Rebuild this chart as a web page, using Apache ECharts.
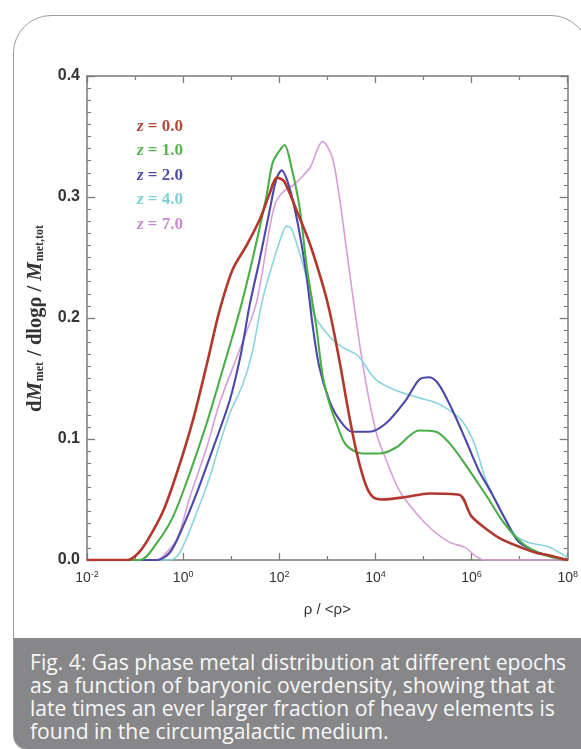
<!DOCTYPE html>
<html>
<head>
<meta charset="utf-8">
<script src="https://cdn.jsdelivr.net/npm/echarts@6/dist/echarts.min.js"></script>
<style>
  html, body { margin: 0; padding: 0; width: 581px; height: 749px; overflow: hidden; background: #fff; }
  .card {
    position: absolute; left: 13px; top: 15px; width: 576px; height: 735px;
    border: 1.5px solid #9c9c9c; border-radius: 38px 38px 0 14px;
    overflow: hidden; background: #fff; box-sizing: border-box;
  }
  .caption {
    position: absolute; left: 0; right: 0; top: 622px; bottom: 0;
    background: #87878a; color: #f7f7f7;
    font-family: "Open Sans", Roboto, sans-serif; font-size: 21.1px; line-height: 23px;
    padding: 12px 0 0 16px; white-space: nowrap;
  }
  #chart { position: absolute; left: 0; top: 0; width: 581px; height: 749px; }
</style>
</head>
<body>
<div class="card">
  <div class="caption">Fig. 4: Gas phase metal distribution at different epochs<br>as a function of baryonic overdensity, showing that at<br>late times an ever larger fraction of heavy elements is<br>found in the circumgalactic medium.</div>
</div>
<div id="chart"></div>
<script>
// x values are log10(rho / <rho>), y values are dM_met / dlog rho / M_met,tot
var seriesNames = ['z = 0.0', 'z = 1.0', 'z = 2.0', 'z = 4.0', 'z = 7.0'];
var seriesColors = ['#b2372c', '#4aae48', '#4c47a8', '#88d6dc', '#d79dd9'];
var legendColors = ['#b4483a', '#58b34f', '#4e4aa6', '#7fd0d6', '#c58ccb'];

var z0LogRho = [-2, -1.15, -0.95, -0.76, -0.42, -0.13, 0.2, 0.5, 0.75, 1.03, 1.32, 1.6, 1.8, 1.95, 2.1, 2.36, 2.63, 2.9, 3.05, 3.25, 3.46, 3.62, 3.8, 3.95, 4.14, 4.63, 5.12, 5.74, 6.0, 6.36, 6.63, 7.05, 7.34, 7.6, 8];
var z0Frac = [0, 0, 0.005, 0.015, 0.040, 0.072, 0.115, 0.163, 0.205, 0.240, 0.260, 0.282, 0.303, 0.316, 0.313, 0.289, 0.262, 0.228, 0.205, 0.165, 0.118, 0.087, 0.062, 0.052, 0.050, 0.052, 0.055, 0.054, 0.036, 0.024, 0.017, 0.010, 0.006, 0.004, 0];

var z1LogRho = [-2, -0.9, -0.55, -0.22, 0.14, 0.49, 0.82, 1.17, 1.44, 1.73, 1.86, 2.0, 2.11, 2.25, 2.42, 2.58, 2.77, 2.9, 3.04, 3.19, 3.39, 3.73, 4.08, 4.43, 4.91, 5.26, 5.53, 5.8, 6.09, 6.36, 6.63, 6.92, 7.19, 7.6, 8];
var z1Frac = [0, 0, 0.014, 0.035, 0.072, 0.113, 0.157, 0.205, 0.248, 0.300, 0.328, 0.338, 0.343, 0.325, 0.292, 0.240, 0.193, 0.153, 0.130, 0.113, 0.095, 0.088, 0.088, 0.093, 0.107, 0.106, 0.097, 0.083, 0.066, 0.050, 0.033, 0.019, 0.010, 0.003, 0];

var z2LogRho = [-2, -0.55, -0.28, -0.01, 0.28, 0.61, 0.97, 1.2, 1.38, 1.59, 1.8, 1.94, 2.05, 2.21, 2.38, 2.56, 2.69, 2.83, 3.04, 3.25, 3.52, 3.87, 4.22, 4.63, 4.91, 5.12, 5.32, 5.6, 5.88, 6.15, 6.42, 6.71, 6.98, 7.4, 8];
var z2Frac = [0, 0, 0.006, 0.027, 0.055, 0.091, 0.132, 0.170, 0.210, 0.248, 0.289, 0.315, 0.322, 0.308, 0.279, 0.237, 0.195, 0.160, 0.132, 0.116, 0.106, 0.106, 0.113, 0.132, 0.149, 0.151, 0.145, 0.124, 0.099, 0.074, 0.055, 0.033, 0.015, 0.006, 0];

var z4LogRho = [-2, -0.28, -0.07, 0.28, 0.55, 0.7, 0.97, 1.24, 1.44, 1.65, 1.9, 2.05, 2.15, 2.25, 2.42, 2.56, 2.72, 3.04, 3.31, 3.6, 3.75, 4.01, 4.43, 4.91, 5.26, 5.53, 5.8, 6.05, 6.3, 6.57, 6.92, 7.22, 7.6, 8];
var z4Frac = [0, 0, 0.006, 0.039, 0.068, 0.088, 0.121, 0.145, 0.172, 0.215, 0.250, 0.268, 0.276, 0.274, 0.254, 0.234, 0.203, 0.185, 0.176, 0.170, 0.163, 0.149, 0.140, 0.134, 0.130, 0.124, 0.115, 0.097, 0.066, 0.044, 0.020, 0.014, 0.011, 0.002];

var z7LogRho = [-2, -0.55, -0.42, -0.13, 0.14, 0.49, 0.76, 1.15, 1.5, 1.63, 1.78, 1.92, 2.1, 2.3, 2.48, 2.65, 2.9, 3.1, 3.25, 3.39, 3.52, 3.7, 3.87, 4.04, 4.22, 4.49, 4.84, 5.18, 5.53, 5.88, 6.09, 6.3, 8];
var z7Frac = [0, 0, 0.003, 0.017, 0.052, 0.093, 0.130, 0.171, 0.209, 0.234, 0.270, 0.295, 0.305, 0.310, 0.317, 0.325, 0.346, 0.333, 0.300, 0.259, 0.221, 0.171, 0.132, 0.102, 0.083, 0.058, 0.039, 0.025, 0.015, 0.010, 0.003, 0, 0];

var xs = [z0LogRho, z1LogRho, z2LogRho, z4LogRho, z7LogRho];
var ys = [z0Frac, z1Frac, z2Frac, z4Frac, z7Frac];
var widths = [2.6, 2.1, 2.1, 1.6, 1.6];

var pairUp = function(xv, yv) {
    var res = [];
    for (var i = 0; i < xv.length; i++) {
        res.push([xv[i], yv[i]]);
    }
    return res;
};

var axisColor = '#7a7a7a';
var tickFont = 'Liberation Sans, Arial, sans-serif';
var serif = 'Liberation Serif, serif';

var xAxisBase = {
    type: 'value', min: -2, max: 8, interval: 2,
    axisLine: { show: true, onZero: false, lineStyle: { color: axisColor, width: 1.5 } },
    axisTick: { show: true, inside: true, length: 7, lineStyle: { color: axisColor, width: 1.3 } },
    minorTick: { show: true, splitNumber: 2, length: 4, lineStyle: { color: axisColor, width: 1.2 } },
    splitLine: { show: false }
};
var yAxisBase = {
    type: 'value', min: 0, max: 0.4, interval: 0.1,
    axisLine: { show: true, onZero: false, lineStyle: { color: axisColor, width: 1.5 } },
    axisTick: { show: true, inside: true, length: 8, lineStyle: { color: axisColor, width: 1.3 } },
    minorTick: { show: true, splitNumber: 10, length: 4, lineStyle: { color: axisColor, width: 1.1 } },
    splitLine: { show: false }
};

var chart = echarts.init(document.getElementById('chart'));
chart.setOption({
    animation: false,
    grid: { left: 87, right: 12, top: 76, bottom: 189 },
    legend: {
        orient: 'vertical', left: 132, top: 118, itemGap: 7.5, padding: 0,
        icon: 'none', itemWidth: 0, itemHeight: 0,
        selectedMode: false,
        data: seriesNames.map(function(n, i) {
            return { name: n, textStyle: { color: legendColors[i] } };
        }),
        formatter: function(name) {
            return '{i|z}' + name.slice(1);
        },
        textStyle: {
            fontFamily: serif, fontSize: 17, fontWeight: 'bold',
            rich: { i: { fontStyle: 'italic', fontWeight: 'bold', fontFamily: serif, fontSize: 17 } }
        }
    },
    xAxis: [
        Object.assign({}, xAxisBase, {
            position: 'bottom',
            name: 'ρ / <ρ>', nameLocation: 'middle', nameGap: 42,
            nameTextStyle: { fontFamily: tickFont, fontSize: 15, color: '#333' },
            axisLabel: {
                margin: 10, color: '#333',
                formatter: function(v) { return '{b|10}{s|' + v + '}'; },
                rich: {
                    b: { fontFamily: tickFont, fontSize: 14, color: '#333' },
                    s: { fontFamily: tickFont, fontSize: 9, color: '#333', padding: [0, 0, 8, 0] }
                }
            }
        }),
        Object.assign({}, xAxisBase, { position: 'top', axisLabel: { show: false } })
    ],
    yAxis: [
        Object.assign({}, yAxisBase, {
            position: 'left',
            name: '{b|d}{i|M}{s|met}{b| / dlogρ / }{i|M}{s|met,tot}',
            nameLocation: 'middle', nameGap: 41, nameRotate: 90,
            nameTextStyle: {
                rich: {
                    b: { fontFamily: serif, fontWeight: 'bold', fontSize: 20.5, color: '#333' },
                    i: { fontFamily: serif, fontWeight: 'bold', fontStyle: 'italic', fontSize: 20.5, color: '#333' },
                    s: { fontFamily: serif, fontWeight: 'bold', fontSize: 12, color: '#333', padding: [9, 1, 0, 1] }
                }
            },
            axisLabel: {
                margin: 7, color: '#333', fontFamily: tickFont, fontWeight: 'bold', fontSize: 16,
                formatter: function(v) { return v.toFixed(1); }
            }
        }),
        Object.assign({}, yAxisBase, { position: 'right', axisLabel: { show: false } })
    ],
    series: seriesNames.map(function(n, i) {
        return {
            name: n, type: 'line', xAxisIndex: 0, yAxisIndex: 0,
            data: pairUp(xs[i], ys[i]),
            showSymbol: false, symbol: 'none',
            smooth: 0.3,
            z: 10 - i,
            itemStyle: { color: seriesColors[i] },
            lineStyle: { color: seriesColors[i], width: widths[i] }
        };
    })
});
</script>
</body>
</html>
